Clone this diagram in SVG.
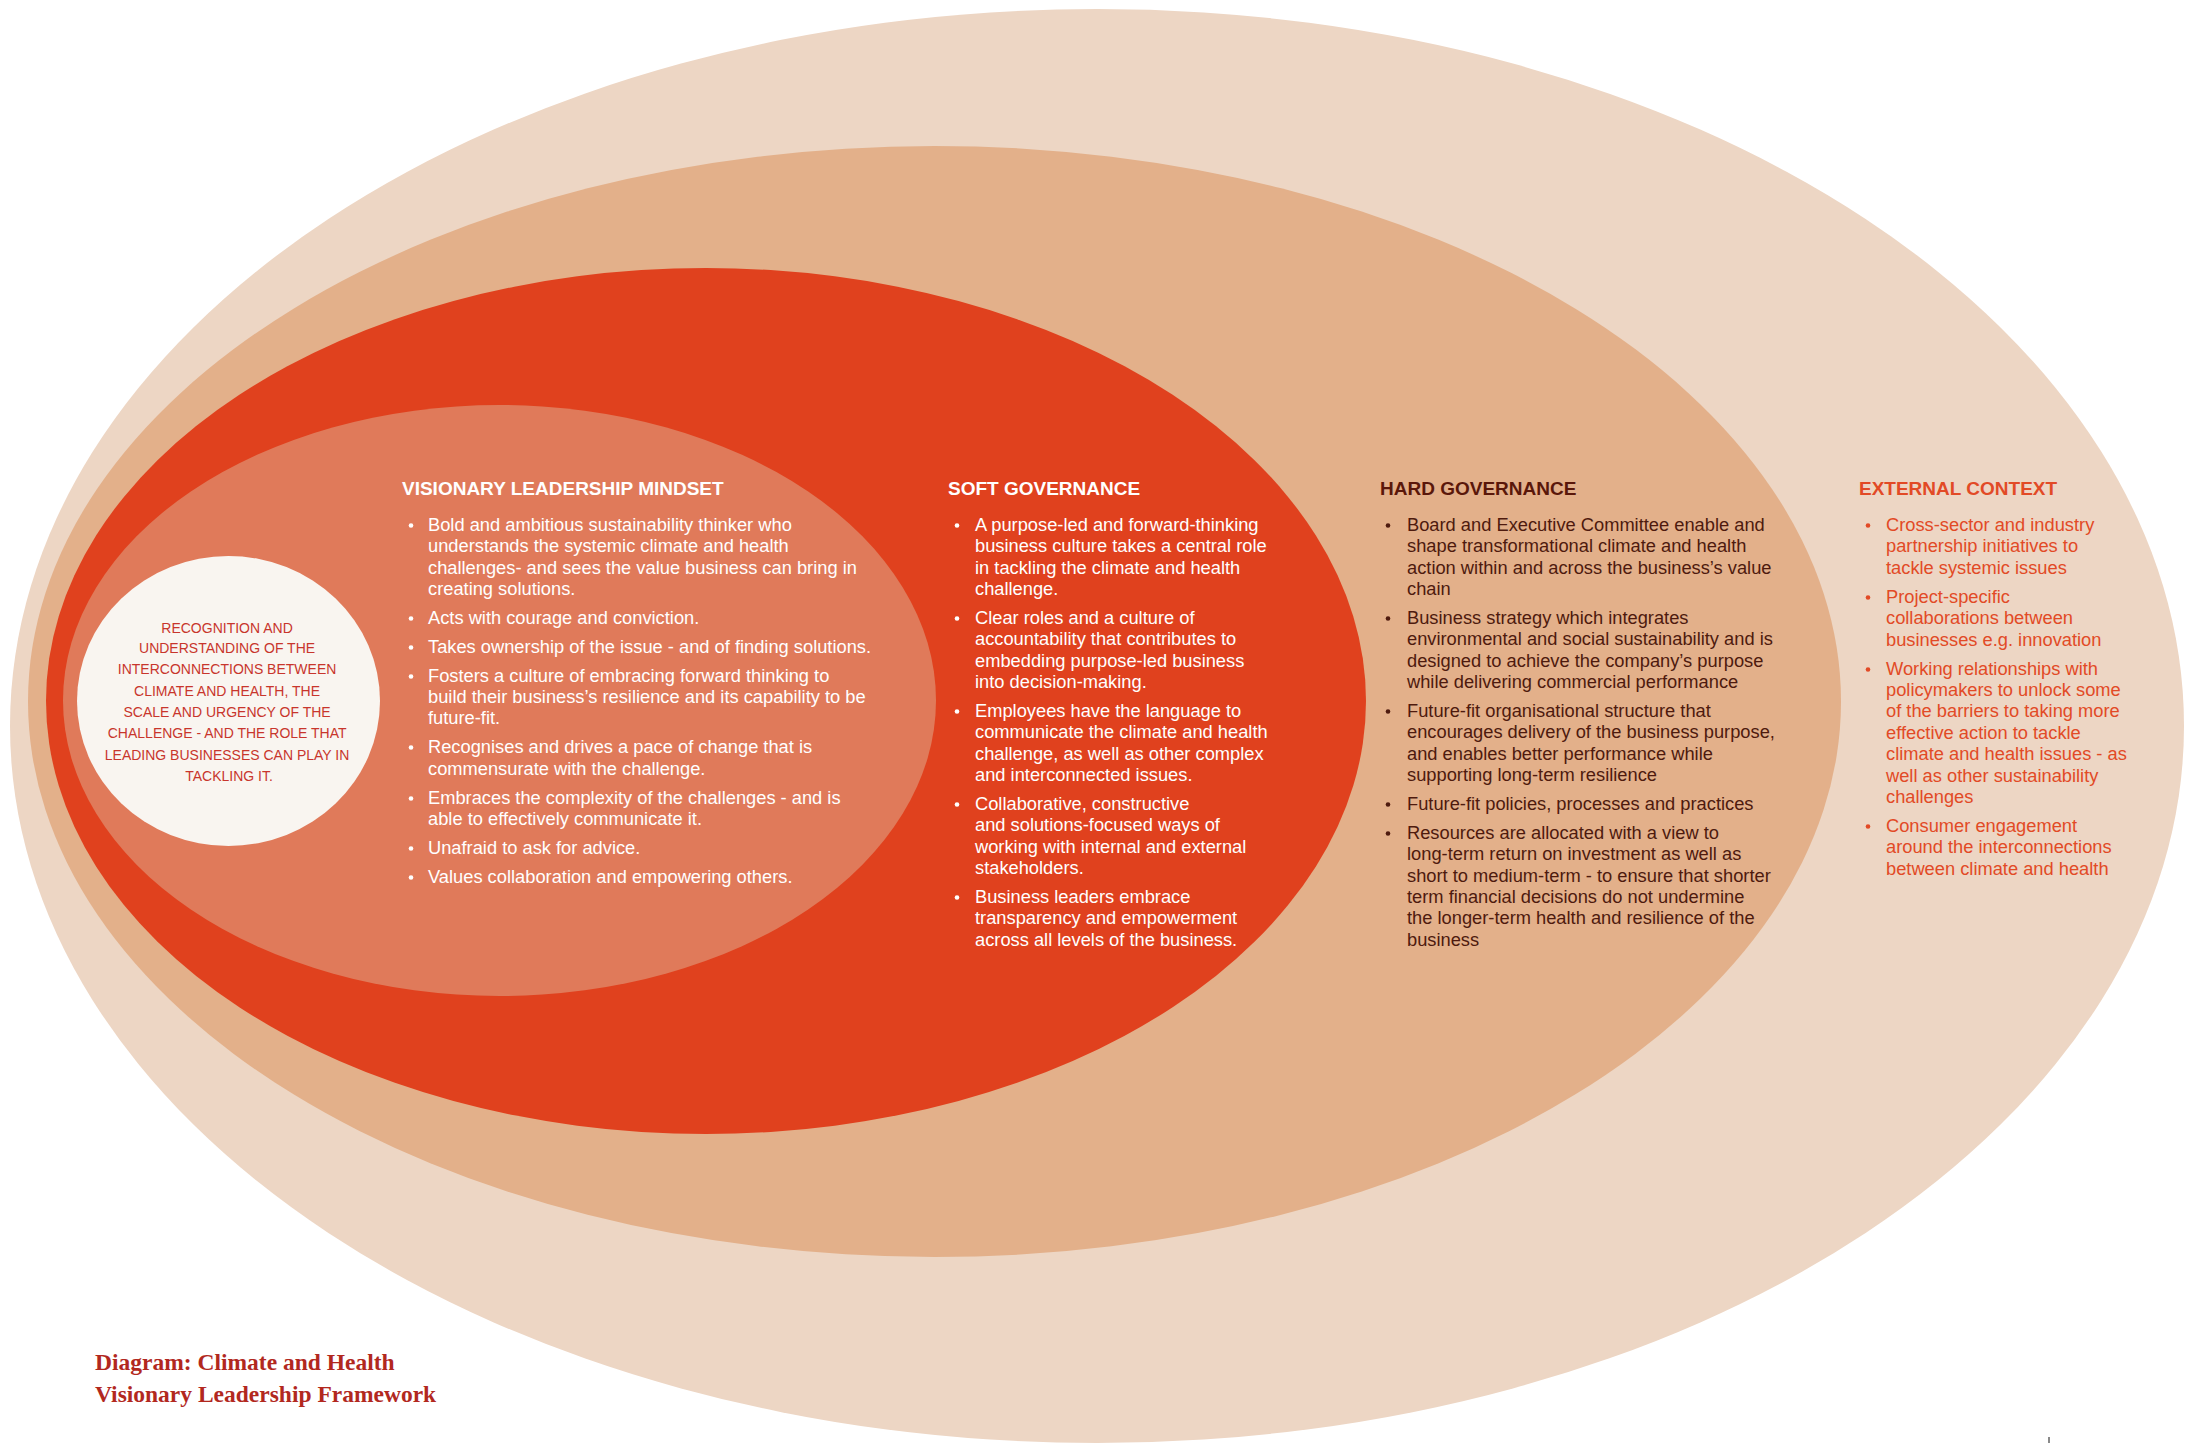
<svg xmlns="http://www.w3.org/2000/svg" width="2190" height="1443" viewBox="0 0 2190 1443">
  <style>
    .body { font-family: "Liberation Sans", Arial, sans-serif; font-size: 18.3px; }
    .head { font-family: "Liberation Sans", Arial, sans-serif; font-size: 19px; font-weight: bold; }
    .core { font-family: "Liberation Sans", Arial, sans-serif; font-size: 14px; fill: #C8352C; text-anchor: middle; }
    .title { font-family: "Liberation Serif", "Times New Roman", serif; font-size: 23.5px; font-weight: bold; fill: #B2281E; }
    .light { fill: #FFFFFF; }
    .dark { fill: #4E1A0E; }
    .darkhead { fill: #5A170A; }
    .accent { fill: #E24A26; }
    .dot-light { fill: #FFFFFF; }
    .dot-dark { fill: #4E1A0E; }
    .dot-accent { fill: #E24A26; }
  </style>

  <rect width="2190" height="1443" fill="#FFFFFF"/>

  <!-- Outermost ring: external context -->
  <g id="external-context">
    <ellipse cx="1097" cy="726" rx="1087" ry="717" fill="#EDD6C4"/>
    <text class="head accent" x="1859" y="495">EXTERNAL CONTEXT</text>
    <g class="dot-accent">
      <circle cx="1868" cy="525.5" r="2.3"/>
      <circle cx="1868" cy="597.5" r="2.3"/>
      <circle cx="1868" cy="669.5" r="2.3"/>
      <circle cx="1868" cy="826.5" r="2.3"/>
    </g>
    <text class="body accent">
      <tspan x="1886" y="531">Cross-sector and industry</tspan>
      <tspan x="1886" y="552">partnership initiatives to</tspan>
      <tspan x="1886" y="574">tackle systemic issues</tspan>
      <tspan x="1886" y="603">Project-specific</tspan>
      <tspan x="1886" y="624">collaborations between</tspan>
      <tspan x="1886" y="646">businesses e.g. innovation</tspan>
      <tspan x="1886" y="675">Working relationships with</tspan>
      <tspan x="1886" y="696">policymakers to unlock some</tspan>
      <tspan x="1886" y="717">of the barriers to taking more</tspan>
      <tspan x="1886" y="739">effective action to tackle</tspan>
      <tspan x="1886" y="760">climate and health issues - as</tspan>
      <tspan x="1886" y="782">well as other sustainability</tspan>
      <tspan x="1886" y="803">challenges</tspan>
      <tspan x="1886" y="832">Consumer engagement</tspan>
      <tspan x="1886" y="853">around the interconnections</tspan>
      <tspan x="1886" y="875">between climate and health</tspan>
    </text>
  </g>

  <!-- Second ring: hard governance -->
  <g id="hard-governance">
    <ellipse cx="934.5" cy="701.5" rx="906.5" ry="555.5" fill="#E3B08A"/>
    <text class="head darkhead" x="1380" y="495">HARD GOVERNANCE</text>
    <g class="dot-dark">
      <circle cx="1388" cy="525.5" r="2.3"/>
      <circle cx="1388" cy="618.5" r="2.3"/>
      <circle cx="1388" cy="711.5" r="2.3"/>
      <circle cx="1388" cy="804.5" r="2.3"/>
      <circle cx="1388" cy="833.5" r="2.3"/>
    </g>
    <text class="body dark">
      <tspan x="1407" y="531">Board and Executive Committee enable and</tspan>
      <tspan x="1407" y="552">shape transformational climate and health</tspan>
      <tspan x="1407" y="574">action within and across the business’s value</tspan>
      <tspan x="1407" y="595">chain</tspan>
      <tspan x="1407" y="624">Business strategy which integrates</tspan>
      <tspan x="1407" y="645">environmental and social sustainability and is</tspan>
      <tspan x="1407" y="667">designed to achieve the company’s purpose</tspan>
      <tspan x="1407" y="688">while delivering commercial performance</tspan>
      <tspan x="1407" y="717">Future-fit organisational structure that</tspan>
      <tspan x="1407" y="738">encourages delivery of the business purpose,</tspan>
      <tspan x="1407" y="760">and enables better performance while</tspan>
      <tspan x="1407" y="781">supporting long-term resilience</tspan>
      <tspan x="1407" y="810">Future-fit policies, processes and practices</tspan>
      <tspan x="1407" y="839">Resources are allocated with a view to</tspan>
      <tspan x="1407" y="860">long-term return on investment as well as</tspan>
      <tspan x="1407" y="882">short to medium-term - to ensure that shorter</tspan>
      <tspan x="1407" y="903">term financial decisions do not undermine</tspan>
      <tspan x="1407" y="924">the longer-term health and resilience of the</tspan>
      <tspan x="1407" y="946">business</tspan>
    </text>
  </g>

  <!-- Third ring: soft governance -->
  <g id="soft-governance">
    <ellipse cx="706" cy="701" rx="660" ry="433" fill="#E0411E"/>
    <text class="head light" x="948" y="495">SOFT GOVERNANCE</text>
    <g class="dot-light">
      <circle cx="957" cy="525.5" r="2.3"/>
      <circle cx="957" cy="618.5" r="2.3"/>
      <circle cx="957" cy="711.5" r="2.3"/>
      <circle cx="957" cy="804.5" r="2.3"/>
      <circle cx="957" cy="897.5" r="2.3"/>
    </g>
    <text class="body light">
      <tspan x="975" y="531">A purpose-led and forward-thinking</tspan>
      <tspan x="975" y="552">business culture takes a central role</tspan>
      <tspan x="975" y="574">in tackling the climate and health</tspan>
      <tspan x="975" y="595">challenge.</tspan>
      <tspan x="975" y="624">Clear roles and a culture of</tspan>
      <tspan x="975" y="645">accountability that contributes to</tspan>
      <tspan x="975" y="667">embedding purpose-led business</tspan>
      <tspan x="975" y="688">into decision-making.</tspan>
      <tspan x="975" y="717">Employees have the language to</tspan>
      <tspan x="975" y="738">communicate the climate and health</tspan>
      <tspan x="975" y="760">challenge, as well as other complex</tspan>
      <tspan x="975" y="781">and interconnected issues.</tspan>
      <tspan x="975" y="810">Collaborative, constructive</tspan>
      <tspan x="975" y="831">and solutions-focused ways of</tspan>
      <tspan x="975" y="853">working with internal and external</tspan>
      <tspan x="975" y="874">stakeholders.</tspan>
      <tspan x="975" y="903">Business leaders embrace</tspan>
      <tspan x="975" y="924">transparency and empowerment</tspan>
      <tspan x="975" y="946">across all levels of the business.</tspan>
    </text>
  </g>

  <!-- Fourth ring: visionary leadership mindset -->
  <g id="visionary-leadership-mindset">
    <ellipse cx="499.5" cy="700.5" rx="436.5" ry="295.5" fill="#E07A5A"/>
    <text class="head light" x="402" y="495">VISIONARY LEADERSHIP MINDSET</text>
    <g class="dot-light">
      <circle cx="411" cy="525.5" r="2.3"/>
      <circle cx="411" cy="618.5" r="2.3"/>
      <circle cx="411" cy="647.5" r="2.3"/>
      <circle cx="411" cy="676.5" r="2.3"/>
      <circle cx="411" cy="747.5" r="2.3"/>
      <circle cx="411" cy="798.5" r="2.3"/>
      <circle cx="411" cy="848.5" r="2.3"/>
      <circle cx="411" cy="877.5" r="2.3"/>
    </g>
    <text class="body light">
      <tspan x="428" y="531">Bold and ambitious sustainability thinker who</tspan>
      <tspan x="428" y="552">understands the systemic climate and health</tspan>
      <tspan x="428" y="574">challenges- and sees the value business can bring in</tspan>
      <tspan x="428" y="595">creating solutions.</tspan>
      <tspan x="428" y="624">Acts with courage and conviction.</tspan>
      <tspan x="428" y="653">Takes ownership of the issue - and of finding solutions.</tspan>
      <tspan x="428" y="682">Fosters a culture of embracing forward thinking to</tspan>
      <tspan x="428" y="703">build their business’s resilience and its capability to be</tspan>
      <tspan x="428" y="724">future-fit.</tspan>
      <tspan x="428" y="753">Recognises and drives a pace of change that is</tspan>
      <tspan x="428" y="775">commensurate with the challenge.</tspan>
      <tspan x="428" y="804">Embraces the complexity of the challenges - and is</tspan>
      <tspan x="428" y="825">able to effectively communicate it.</tspan>
      <tspan x="428" y="854">Unafraid to ask for advice.</tspan>
      <tspan x="428" y="883">Values collaboration and empowering others.</tspan>
    </text>
  </g>

  <!-- Core: recognition and understanding -->
  <g id="core-recognition">
    <ellipse cx="228.5" cy="701" rx="151.5" ry="145" fill="#F9F5F0"/>
    <text class="core">
      <tspan x="229" y="633">RECOGNITION AND</tspan>
      <tspan x="229" y="653">UNDERSTANDING OF THE</tspan>
      <tspan x="229" y="674">INTERCONNECTIONS BETWEEN</tspan>
      <tspan x="229" y="696">CLIMATE AND HEALTH, THE</tspan>
      <tspan x="229" y="717">SCALE AND URGENCY OF THE</tspan>
      <tspan x="229" y="738">CHALLENGE - AND THE ROLE THAT</tspan>
      <tspan x="229" y="760">LEADING BUSINESSES CAN PLAY IN</tspan>
      <tspan x="229" y="781">TACKLING IT.</tspan>
    </text>
  </g>

  <!-- No connectors in this layered layout -->
  <g id="connectors"/>

  <!-- Caption -->
  <g id="caption">
    <text class="title" x="95" y="1370">Diagram: Climate and Health</text>
    <text class="title" x="95" y="1402">Visionary Leadership Framework</text>
  </g>

  <rect x="2048" y="1437" width="2" height="6" fill="#8A8A8A"/>
</svg>
